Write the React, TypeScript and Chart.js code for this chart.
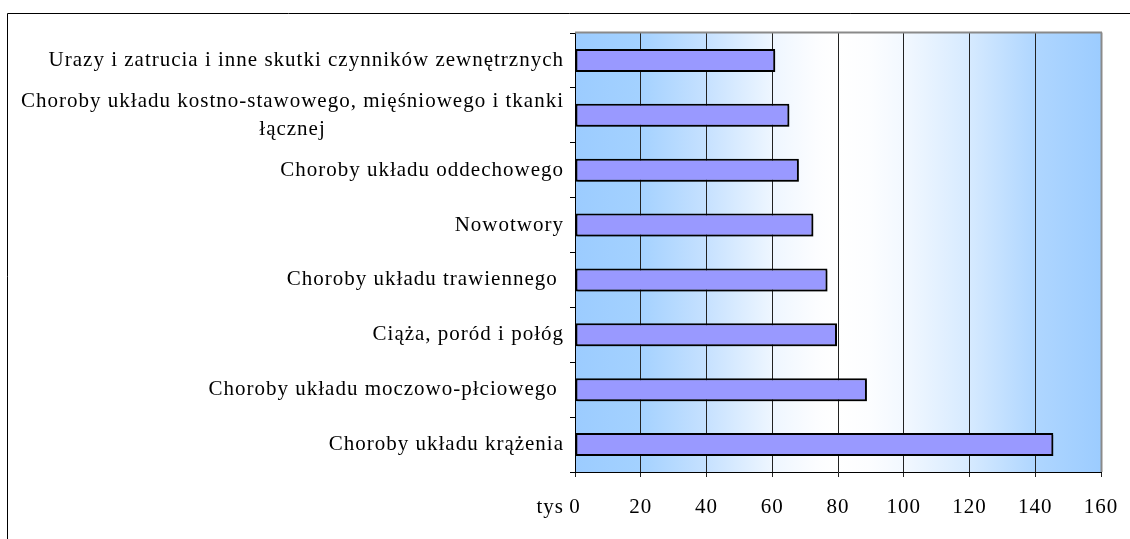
import React, { useEffect, useRef } from 'react';
import { Chart, registerables } from 'chart.js';

Chart.register(...registerables);

const categories: (string | string[])[] = [
  'Urazy i zatrucia i inne skutki czynników zewnętrznych',
  ['Choroby układu kostno-stawowego, mięśniowego i tkanki', 'łącznej'],
  'Choroby układu oddechowego',
  'Nowotwory',
  'Choroby układu trawiennego ',
  'Ciąża, poród i połóg',
  'Choroby układu moczowo-płciowego ',
  'Choroby układu krążenia',
];

const values = [60.9, 65.2, 68.1, 72.5, 76.8, 79.7, 88.8, 145.5];

const xMin = 0;
const xMax = 160;
const xStep = 20;
const unitLabel = 'tys';

const FONT_FAMILY = '"Liberation Serif", "Times New Roman", serif';
const FONT_SIZE = 21;
const LETTER_SPACING = '1px';
const X_TICK_PAD = 18;

const gradientStops: [number, string][] = [
  [0, '#9CCCFF'],
  [0.12, '#A3D1FF'],
  [0.25, '#C6E1FF'],
  [0.375, '#EEF6FF'],
  [0.46, '#FCFDFF'],
  [0.5, '#FFFFFF'],
  [0.56, '#FCFDFF'],
  [0.625, '#F2F8FF'],
  [0.75, '#D6EAFF'],
  [0.875, '#AFD6FF'],
  [1, '#9CCCFF'],
];

const decorPlugin = {
  id: 'decor',
  beforeDraw(chart: any) {
    const { ctx, chartArea } = chart;
    ctx.letterSpacing = LETTER_SPACING;
    ctx.save();
    const g = ctx.createLinearGradient(chartArea.left, 0, chartArea.right, 0);
    gradientStops.forEach(([o, c]) => g.addColorStop(o, c));
    ctx.fillStyle = g;
    ctx.fillRect(chartArea.left, chartArea.top, chartArea.right - chartArea.left, chartArea.bottom - chartArea.top);
    ctx.restore();
  },
  beforeDatasetsDraw(chart: any) {
    const { ctx } = chart;
    ctx.save();
    ctx.shadowColor = 'rgba(0,0,0,0.35)';
    ctx.shadowOffsetX = 2;
    ctx.shadowOffsetY = 2;
    ctx.shadowBlur = 0;
  },
  afterDatasetsDraw(chart: any) {
    chart.ctx.restore();
  },
  afterDraw(chart: any) {
    const { ctx, chartArea, scales } = chart;
    ctx.save();
    // plot border top/right (grey)
    ctx.strokeStyle = '#8a8a8a';
    ctx.lineWidth = 2;
    ctx.beginPath();
    ctx.moveTo(chartArea.left, chartArea.top - 0.5);
    ctx.lineTo(chartArea.right + 1, chartArea.top - 0.5);
    ctx.moveTo(chartArea.right + 0.5, chartArea.top - 0.5);
    ctx.lineTo(chartArea.right + 0.5, chartArea.bottom);
    ctx.stroke();

    // outer frame
    ctx.strokeStyle = '#000';
    ctx.lineWidth = 1;
    ctx.beginPath();
    ctx.moveTo(7.5, chart.height + 2);
    ctx.lineTo(7.5, 13.5);
    ctx.lineTo(chart.width + 2, 13.5);
    ctx.stroke();

    // y labels
    ctx.font = `${FONT_SIZE}px ${FONT_FAMILY}`;
    ctx.letterSpacing = LETTER_SPACING;
    ctx.fillStyle = '#000';
    ctx.textBaseline = 'middle';
    const yScale = scales.y;
    const rightX = chartArea.left - 11;
    const lineH = 28;
    categories.forEach((lab, i) => {
      const yc = yScale.getPixelForTick(i);
      const lines = Array.isArray(lab) ? lab : [lab];
      const widths = lines.map((l) => ctx.measureText(l).width);
      const maxW = Math.max(...widths);
      const centerX = rightX - maxW / 2;
      lines.forEach((l, j) => {
        const y = yc + (j - (lines.length - 1) / 2) * lineH;
        if (lines.length === 1) {
          ctx.textAlign = 'right';
          ctx.fillText(l, rightX, y);
        } else {
          ctx.textAlign = 'center';
          ctx.fillText(l, centerX, y);
        }
      });
    });

    // unit label before 0
    const xScale = scales.x;
    const x0 = xScale.getPixelForValue(0);
    const w0 = ctx.measureText('0').width;
    ctx.textAlign = 'right';
    ctx.fillText(unitLabel + ' ', x0 - w0 / 2 + 1, xScale.top + 5 + X_TICK_PAD + FONT_SIZE * 0.6);
    ctx.restore();
  },
};

export default function App() {
  const ref = useRef<HTMLCanvasElement | null>(null);

  useEffect(() => {
    document.body.style.margin = '0';
    const canvas = ref.current!;
    const chart = new Chart(canvas, {
      type: 'bar',
      data: {
        labels: categories as any,
        datasets: [
          {
            data: values,
            backgroundColor: '#9999FF',
            borderColor: '#000000',
            borderWidth: 2,
            borderSkipped: false,
            barPercentage: 0.42,
            categoryPercentage: 1,
          },
        ],
      },
      options: {
        indexAxis: 'y',
        responsive: false,
        animation: false,
        layout: { padding: { left: 0, right: 29, top: 33, bottom: 0 } },
        plugins: {
          legend: { display: false },
          tooltip: { enabled: false },
        },
        scales: {
          x: {
            min: xMin,
            max: xMax,
            ticks: {
              stepSize: xStep,
              color: '#000',
              padding: X_TICK_PAD,
              font: { family: FONT_FAMILY, size: FONT_SIZE },
            },
            grid: {
              color: '#222',
              lineWidth: 1,
              tickLength: 5,
              drawTicks: true,
            },
            border: { color: '#000', width: 1 },
            afterFit: (s: any) => {
              s.height = 67;
              s.paddingRight = 0;
              s.paddingLeft = 0;
            },
          },
          y: {
            ticks: { display: false },
            grid: {
              drawOnChartArea: false,
              drawTicks: true,
              tickLength: 5,
              color: '#000',
              offset: true,
            },
            border: { color: '#000', width: 1 },
            afterFit: (s: any) => {
              s.width = 575;
              s.paddingTop = 0;
              s.paddingBottom = 0;
            },
          },
        },
      },
      plugins: [decorPlugin],
    });
    return () => chart.destroy();
  }, []);

  return <canvas ref={ref} width={1130} height={539} style={{ display: 'block' }} />;
}
